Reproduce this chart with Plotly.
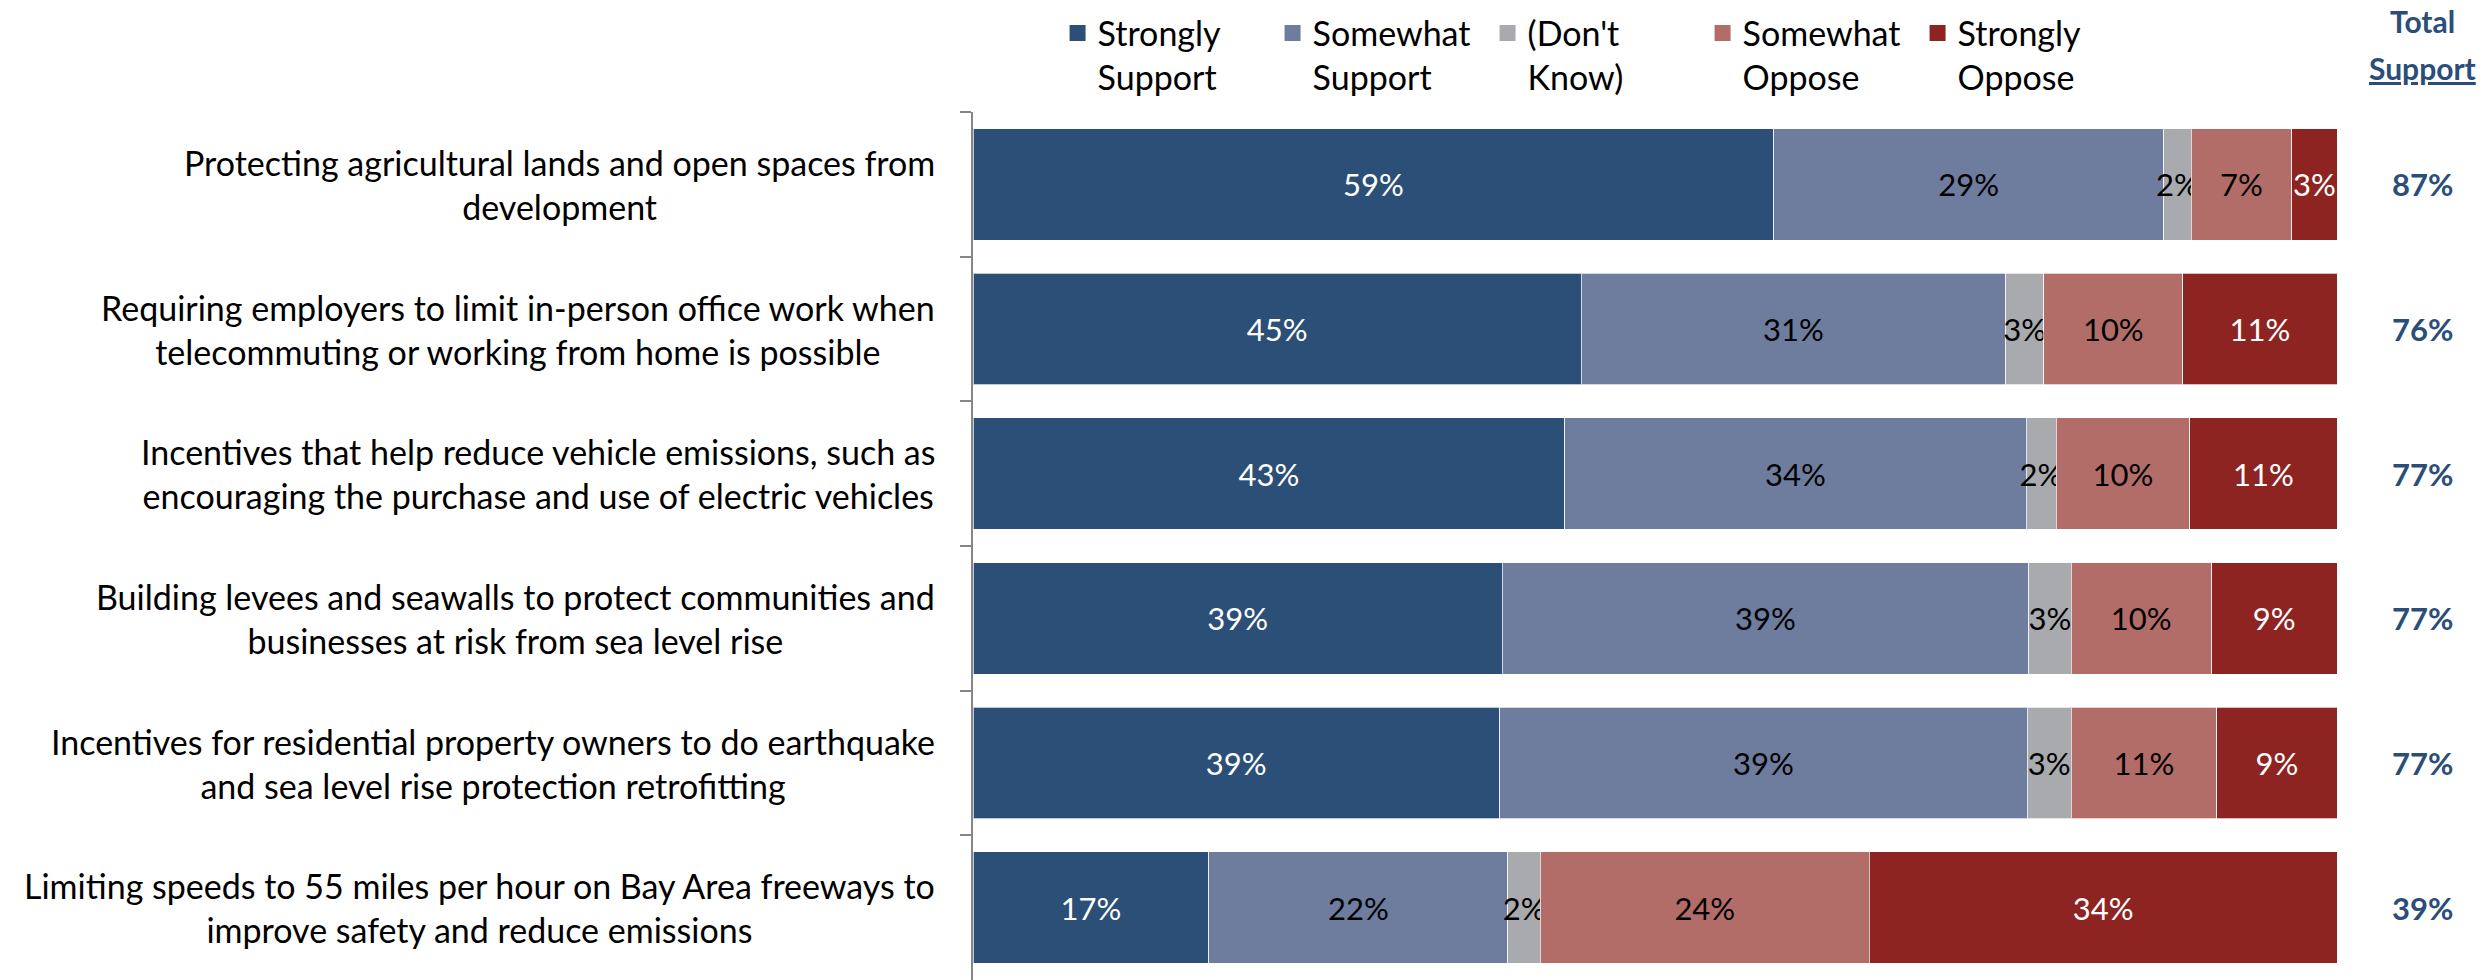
import plotly.graph_objects as go

categories = [
    "Protecting agricultural lands and open spaces from<br>development",
    "Requiring employers to limit in-person office work when<br>telecommuting or working from home is possible",
    "Incentives that help reduce vehicle emissions, such as<br>encouraging the purchase and use of electric vehicles",
    "Building levees and seawalls to protect communities and<br>businesses at risk from sea level rise",
    "Incentives for residential property owners to do earthquake<br>and sea level rise protection retrofitting",
    "Limiting speeds to 55 miles per hour on Bay Area freeways to<br>improve safety and reduce emissions",
]
cat_ids = ["c1", "c2", "c3", "c4", "c5", "c6"]

series_names = ["Strongly<br>Support", "Somewhat<br>Support", "(Don't<br>Know)", "Somewhat<br>Oppose", "Strongly<br>Oppose"]
strongly_support = [58.7, 44.6, 43.4, 38.8, 38.6, 17.3]
somewhat_support = [28.6, 31.1, 33.8, 38.6, 38.7, 21.9]
dont_know = [2.0, 2.8, 2.2, 3.1, 3.2, 2.4]
somewhat_oppose = [7.4, 10.2, 9.8, 10.3, 10.7, 24.1]
strongly_oppose = [3.3, 11.3, 10.8, 9.2, 8.8, 34.3]
total_support = [87, 76, 77, 77, 77, 39]

colors = ["#2B4F77", "#6E7C9E", "#A9AAAE", "#B36D69", "#8E2421"]
text_colors = ["white", "black", "black", "black", "white"]
FONT = "Lato"
NAVY = "#2B4E78"

fig = go.Figure()
for name, vals, col, tcol in zip(
    series_names,
    [strongly_support, somewhat_support, dont_know, somewhat_oppose, strongly_oppose],
    colors, text_colors,
):
    fig.add_trace(go.Bar(
        name=name, y=cat_ids, x=vals, orientation="h", showlegend=False,
        marker=dict(color=col, line=dict(color="rgba(255,255,255,0.7)", width=1)),
        texttemplate="%{x:.0f}%", textposition="inside", insidetextanchor="middle",
        constraintext="none", textangle=0,
        insidetextfont=dict(color=tcol, size=31, family=FONT),
        hoverinfo="skip",
    ))
# legend-only entries (square swatches)
for name, col in zip(series_names, colors):
    fig.add_trace(go.Scatter(
        name=name, x=[None], y=[None], mode="markers",
        marker=dict(symbol="square", size=16, color=col),
        showlegend=True, hoverinfo="skip",
    ))

annotations = []
for cid, label, tot in zip(cat_ids, categories, total_support):
    annotations.append(dict(
        xref="paper", yref="y", x=0, y=cid, xshift=-36, xanchor="right", align="center",
        text=label, showarrow=False, font=dict(size=34, family=FONT, color="black"),
    ))
    annotations.append(dict(
        xref="paper", yref="y", x=1.063, y=cid, xanchor="center",
        text=f"<b>{tot}%</b>", showarrow=False, font=dict(size=31, family=FONT, color=NAVY),
    ))
annotations.append(dict(
    xref="paper", yref="paper", x=1.063, y=1.1048, xanchor="center", yanchor="middle",
    text="<b>Total</b>", showarrow=False, font=dict(size=30, family=FONT, color=NAVY),
))
annotations.append(dict(
    xref="paper", yref="paper", x=1.063, y=1.0507, xanchor="center", yanchor="middle",
    text="<b><u>Support</u></b>", showarrow=False, font=dict(size=30, family=FONT, color=NAVY),
))

fig.update_layout(
    width=2483, height=980,
    margin=dict(l=973, r=146, t=112, b=0),
    barmode="stack", bargap=0.23,
    plot_bgcolor="white", paper_bgcolor="white",
    font=dict(family=FONT, size=30, color="black"),
    showlegend=True,
    legend=dict(
        orientation="h", x=0.062, y=1.124, xanchor="left", yanchor="top",
        xref="paper", yref="paper", valign="top",
        font=dict(size=34, family=FONT, color="black"),
        entrywidth=170, entrywidthmode="pixels", traceorder="normal",
        itemclick=False, itemdoubleclick=False, itemsizing="trace",
    ),
    xaxis=dict(range=[0, 100], visible=False, fixedrange=True),
    yaxis=dict(
        categoryorder="array", categoryarray=cat_ids, autorange="reversed",
        showticklabels=False, tickson="boundaries", ticks="outside", ticklen=11,
        tickcolor="#868686", tickwidth=2, showline=True, linecolor="#868686", linewidth=2,
        showgrid=False, zeroline=False, fixedrange=True,
    ),
    annotations=annotations,
)

fig.write_html(
    "out.html",
    config={"displayModeBar": False},
    post_script="document.body.style.margin='0';document.body.style.overflow='hidden';",
)
